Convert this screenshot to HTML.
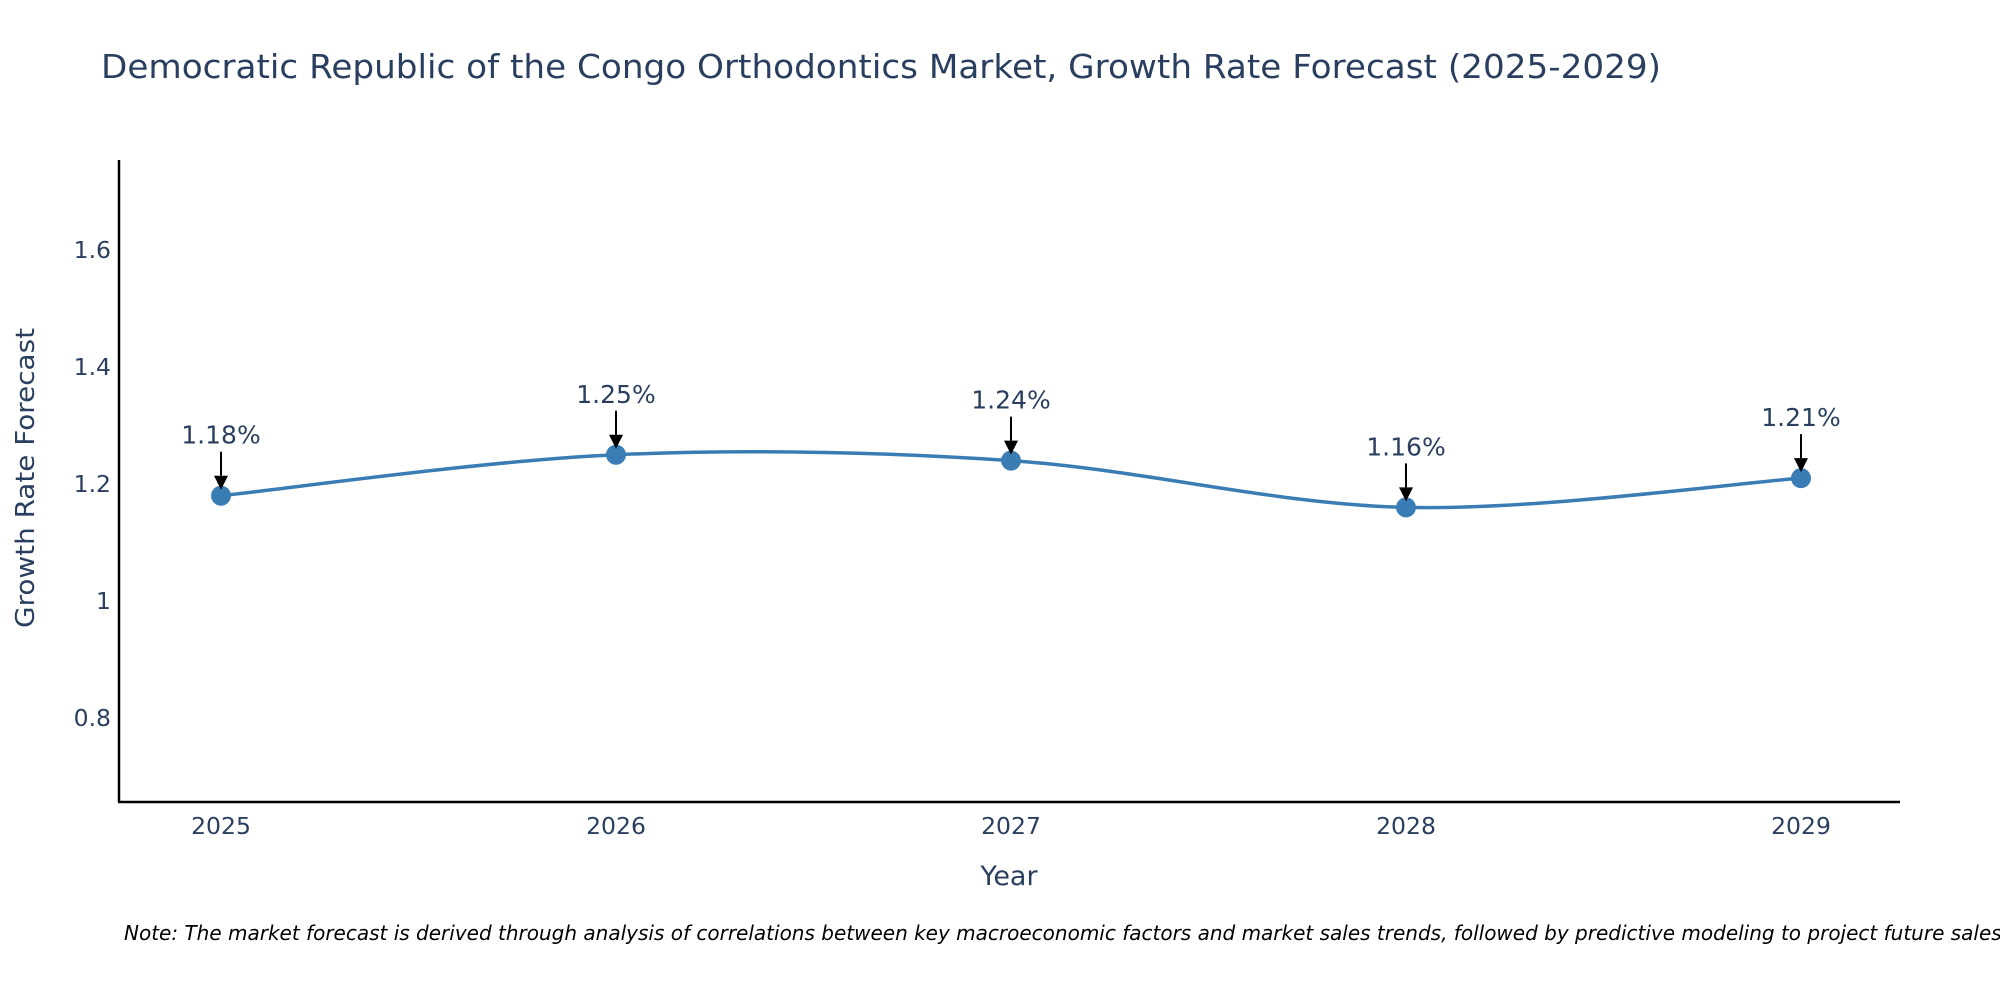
<!DOCTYPE html>
<html><head><meta charset="utf-8"><style>
html,body{margin:0;padding:0;background:#fff;}
svg{display:block;font-family:"DejaVu Sans","Liberation Sans",sans-serif;}
</style></head><body>
<svg id="chart" width="2000" height="1000" viewBox="0 0 2000 1000">
<text x="101" y="78" font-size="33" fill="#2a3f5f" textLength="1560" lengthAdjust="spacingAndGlyphs">Democratic Republic of the Congo Orthodontics Market, Growth Rate Forecast (2025-2029)</text>
<g id="yticks"></g>
<g id="xticks"></g>
<line x1="119" y1="160" x2="119" y2="802" stroke="#000" stroke-width="2.5"/>
<line x1="118" y1="802" x2="1900" y2="802" stroke="#000" stroke-width="2.5"/>
<text transform="translate(34,478) rotate(-90)" text-anchor="middle" font-size="26" fill="#2a3f5f" textLength="300" lengthAdjust="spacingAndGlyphs">Growth Rate Forecast</text>
<text x="1009" y="885" text-anchor="middle" font-size="27" fill="#2a3f5f">Year</text>
<g id="series"></g>
<g id="annots"></g>
<text x="124" y="940" font-size="20" font-style="italic" fill="#000">Note: The market forecast is derived through analysis of correlations between key macroeconomic factors and market sales trends, followed by predictive modeling to project future sales.</text>
</svg>
<script>
const years = [2025, 2026, 2027, 2028, 2029];
const values = [1.18, 1.25, 1.24, 1.16, 1.21];
const labels = ["1.18%", "1.25%", "1.24%", "1.16%", "1.21%"];
const yTickVals = [0.8, 1.0, 1.2, 1.4, 1.6];
const yTickLabels = ["0.8", "1", "1.2", "1.4", "1.6"];

const NS = "http://www.w3.org/2000/svg";
const xS = v => 221 + (v - 2025) * 395;
const yS = v => 601 - (v - 1.0) * 585;
function mk(tag, attrs, parent, txt) {
  const e = document.createElementNS(NS, tag);
  for (const k in attrs) e.setAttribute(k, attrs[k]);
  if (txt !== undefined) e.textContent = txt;
  parent.appendChild(e);
  return e;
}
const yt = document.getElementById('yticks');
yTickVals.forEach((v, i) => {
  const t = mk('text', {x: 111, y: yS(v) + 8, 'text-anchor': 'end', 'font-size': 23.5, fill: '#2a3f5f'}, yt, yTickLabels[i]);
  
  
});
const xt = document.getElementById('xticks');
years.forEach(y => {
  const t = mk('text', {x: xS(y), y: 834, 'text-anchor': 'middle', 'font-size': 23.5, fill: '#2a3f5f'}, xt, String(y));
  
  
});
const pts = years.map((y, i) => [xS(y), yS(values[i])]);
let d = `M${pts[0][0]},${pts[0][1]}`;
const s = 1/6;
for (let i = 0; i < pts.length - 1; i++) {
  const p0 = pts[Math.max(0, i - 1)], p1 = pts[i], p2 = pts[i + 1], p3 = pts[Math.min(pts.length - 1, i + 2)];
  const c1 = [p1[0] + (p2[0] - p0[0]) * s, p1[1] + (p2[1] - p0[1]) * s];
  const c2 = [p2[0] - (p3[0] - p1[0]) * s, p2[1] - (p3[1] - p1[1]) * s];
  d += ` C${c1[0]},${c1[1]} ${c2[0]},${c2[1]} ${p2[0]},${p2[1]}`;
}
const ser = document.getElementById('series');
const line = mk('path', {d: d, fill: 'none', stroke: '#3a7db5', 'stroke-width': 3.5}, ser);


const an = document.getElementById('annots');
pts.forEach((p, i) => {
  const c = mk('circle', {cx: p[0], cy: p[1], r: 10, fill: '#3a7db5'}, ser);
  
  
  const a = mk('line', {x1: p[0], y1: p[1] - 44, x2: p[0], y2: p[1] - 20, stroke: '#000', 'stroke-width': 2}, an);
  
  
  const h = mk('polygon', {points: `${p[0]-7},${p[1]-20} ${p[0]+7},${p[1]-20} ${p[0]},${p[1]-6}`, fill: '#000'}, an);
  
  
  const t = mk('text', {x: p[0], y: p[1] - 52, 'text-anchor': 'middle', 'font-size': 25, fill: '#2a3f5f'}, an, labels[i]);
  
  
});
</script>
</body></html>
